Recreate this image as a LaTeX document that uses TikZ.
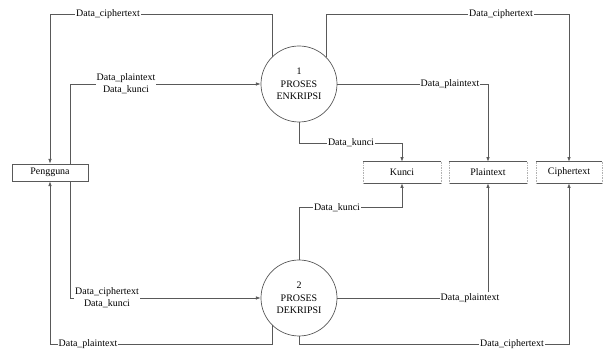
\documentclass[tikz,border=0pt]{standalone}
\usepackage{fontspec}
\setmainfont{Liberation Serif}
\usetikzlibrary{arrows.meta}

\tikzset{
  line/.style={draw=black!65, line width=0.6pt},
  flow/.style={line, -{Latex[length=4pt,width=3pt]}},
  lbl/.style={fill=white, inner sep=1pt, align=center, font=\fontsize{8.5}{10}\selectfont},
  proc/.style={circle, line, fill=white, minimum size=2.28cm, inner sep=0pt, align=center, font=\fontsize{8.5}{10.5}\selectfont},
  entity/.style={rectangle, line, minimum width=2.28cm, minimum height=0.51cm, inner sep=0pt, font=\fontsize{8.5}{10}\selectfont},
  store/.style={rectangle, minimum width=2.34cm, minimum height=0.63cm, inner sep=0pt, font=\fontsize{8.5}{10}\selectfont}
}

\begin{document}
\begin{tikzpicture}[x=0.03cm, y=-0.03cm]

\useasboundingbox (0,0) rectangle (603,349);

\coordinate (top) at (0,14);
\coordinate (bot) at (0,344);

\node [entity] (user) at (50,172.5) {Pengguna};
\node [proc] (c1) at (299,84) {1\\PROSES\\ENKRIPSI};
\node [proc] (c2) at (299,298) {2\\PROSES\\DEKRIPSI};

\node [store] (kunci) at (402,172.5) {Kunci};
\node [store] (plain) at (488,172.5) {Plaintext};
\node [store, minimum width=1.98cm] (cipher) at (569,172.5) {Ciphertext};

% Data store edges: solid top and bottom, dotted sides
\foreach \s in {kunci, plain, cipher} {
  \draw [line] (\s.north west) -- (\s.north east);
  \draw [line] (\s.south west) -- (\s.south east);
  \draw [black!30, densely dotted] (\s.north west) -- (\s.south west);
  \draw [black!30, densely dotted] (\s.north east) -- (\s.south east);
}

% Enkripsi flows
\draw [flow] (c1.135) -- (c1.135 |- top) -| (user.north);
\draw [flow] ([xshift=0.6cm]user.north) |- (c1.west);
\draw [flow] (c1.45) -- (c1.45 |- top) -| (cipher.north);
\draw [flow] (c1.east) -| (plain.north);
\draw [flow] (c1.south) -- ++(0,21) -| (kunci.north);

% Dekripsi flows
\draw [flow] (c2.225) -- (c2.225 |- bot) -| (user.south);
\draw [flow] ([xshift=0.6cm]user.south) |- (c2.west);
\draw [flow] (c2.south) -- (c2.south |- bot) -| (cipher.south);
\draw [flow] (c2.east) -| (plain.south);
\draw [flow] (c2.north) -- ++(0,-52) -| (kunci.south);

% Labels
\node [lbl] (l1) at (108,14) {Data\_ciphertext};
\node [lbl] (l2) at (501,14) {Data\_ciphertext};
\node [lbl] (l3) at (126,84) {Data\_plaintext\\Data\_kunci};
\node [lbl] (l4) at (450,84) {Data\_plaintext};
\node [lbl] (l5) at (351,143) {Data\_kunci};
\node [lbl] (l6) at (337,208) {Data\_kunci};
\node [lbl] (l7) at (470,298) {Data\_plaintext};
\node [lbl] (l8) at (107,298) {Data\_ciphertext\\Data\_kunci};
\node [lbl] (l9) at (88,344) {Data\_plaintext};
\node [lbl] (l10) at (512,344) {Data\_ciphertext};

\end{tikzpicture}
\end{document}
